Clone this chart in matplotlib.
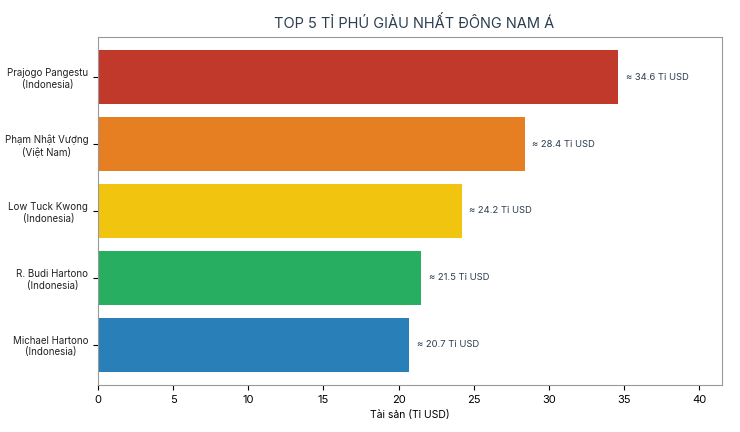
import matplotlib.pyplot as plt

names = ['Prajogo Pangestu\n(Indonesia)', 'Phạm Nhật Vượng\n(Việt Nam)', 'Low Tuck Kwong\n(Indonesia)',
         'R. Budi Hartono\n(Indonesia)', 'Michael Hartono\n(Indonesia)']
values = [34.6, 28.4, 24.2, 21.5, 20.7]
colors = ['#c0392b', '#e67e22', '#f1c40f', '#27ae60', '#2980b9']

plt.rcParams['font.family'] = ['Inter', 'DejaVu Sans']
fig = plt.figure(figsize=(7.4, 4.32), dpi=100)
ax = fig.add_axes([98/740, 1-385/432, 624/740, 348/432])
y = list(range(len(values)))[::-1]
ax.barh(y, values, height=0.8, color=colors)
for yi, v in zip(y, values):
    ax.text(v + 0.5, yi, '≈ %.1f Tỉ USD' % v, va='center', fontsize=6.8, color='#2c3e50')
ax.set_yticks(y)
ax.set_yticklabels(names, fontsize=7, color='#222222', multialignment='center')
ax.set_xlim(0, values[0]*1.2)
ax.set_ylim(-0.6, 4.6)
ax.set_xticks(range(0, 45, 5))
ax.tick_params(axis='x', labelsize=8)
ax.set_xlabel('Tài sản (Tỉ USD)', fontsize=7.5)
for s in ax.spines.values():
    s.set_color('#999999')
fig.suptitle('TOP 5 TỈ PHÚ GIÀU NHẤT ĐÔNG NAM Á', x=0.56, y=0.965, fontsize=10.5, color='#2c3e50')
fig.savefig('out.png')
